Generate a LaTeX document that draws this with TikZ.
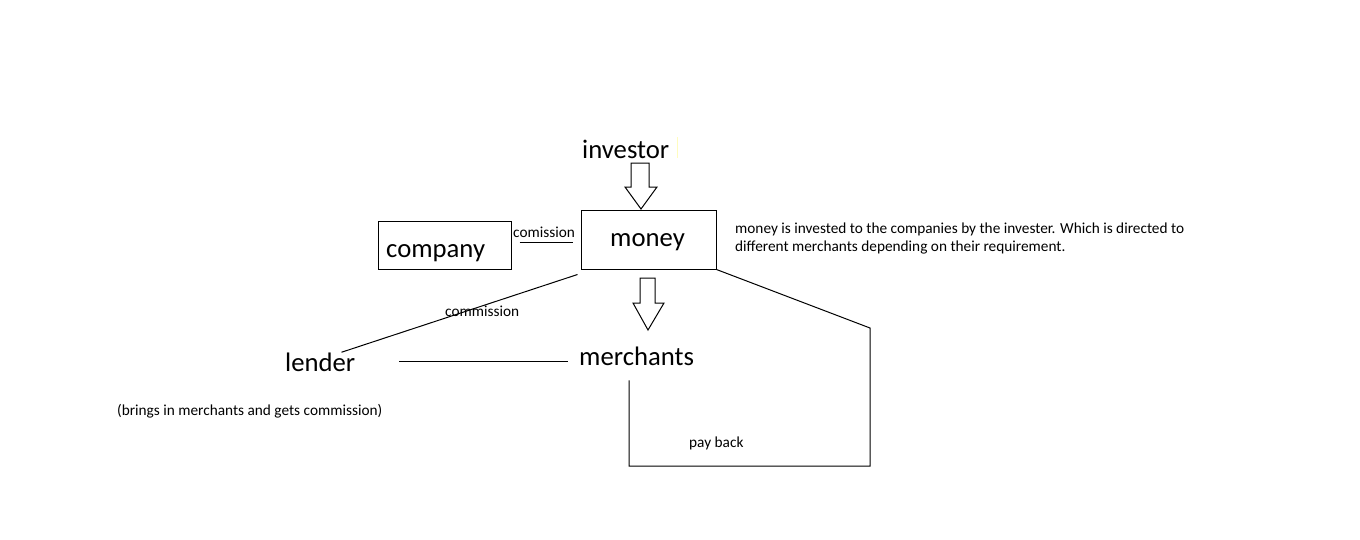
\documentclass[tikz,border=0pt]{standalone}
\usepackage{fontspec}
\setmainfont{Carlito}
\usetikzlibrary{positioning}

\begin{document}
\begin{tikzpicture}[x=1pt,y=-1pt,
	big/.style={font=\fontsize{26.7}{32}\selectfont, inner sep=0pt, anchor=base west},
	small/.style={font=\fontsize{15.3}{18.4}\selectfont, inner sep=0pt, anchor=base west},
	line/.style={draw=black, line width=1pt},
	box/.style={draw=black, line width=1pt, inner sep=0pt}]
	\useasboundingbox (0,0) rectangle (1360,539);
	\fill[white] (0,0) rectangle (1360,539);
	% boxes
	\node[box, minimum width=135pt, minimum height=59pt] (money) at (648.5,239.5) {};
	\node[box, minimum width=133pt, minimum height=48pt] (company) at (444.5,245) {};
	% words
	\node[big] (investor) at (582,158) {investor};
	\node[big] (moneytxt) at (610,246) {money};
	\node[big] (companytxt) at (386,257) {company};
	\node[big] (lender) at (285,371) {lender};
	\node[big] (merchants) at (579,365) {merchants};
	\node[small] (comission) at (513,237) {comission};
	\node[small] (commission) at (445,316) {commission};
	\node[small] (payback) at (689,447) {pay back};
	\node[small] (brings) at (117,415) {(brings in merchants and gets commission)};
	\node[small] (note1) at (735,233) {money is invested to the companies by the invester. Which is directed to};
	\node[small] (note2) at (735,251) {different merchants depending on their requirement.};
	\draw[yellow!25, line width=1pt] ([xshift=8pt,yshift=2pt]investor.north east) -- ([xshift=8pt]investor.south east);
	% hollow arrows
	\draw[line] (631,163) -- (649,163) -- (649,187) -- (657,187) -- (641,209) -- (625,187) -- (631,187) -- cycle;
	\draw[line] (640,278) -- (655,278) -- (655,303) -- (664,303) -- (648,330) -- (633,303) -- (640,303) -- cycle;
	% lines
	\draw[line] ([xshift=8pt,yshift=3pt]company.east) -- ([xshift=-8pt,yshift=-2.5pt]money.west);
	\draw[line] ([xshift=-3pt,yshift=-5pt]money.south west) -- ([xshift=-14pt]lender.north east);
	\draw[line] ([xshift=44pt]lender.east) -- ([xshift=-11pt]merchants.west |- lender.east);
	\coordinate (rtop) at (870,328);
	\coordinate (rbot) at (870,466);
	\coordinate (lbot) at (629,466);
	\draw[line] (money.south east) -- (rtop) -- (rbot) -- (lbot) -- ([xshift=50pt,yshift=-15pt]merchants.south west);
\end{tikzpicture}
\end{document}
